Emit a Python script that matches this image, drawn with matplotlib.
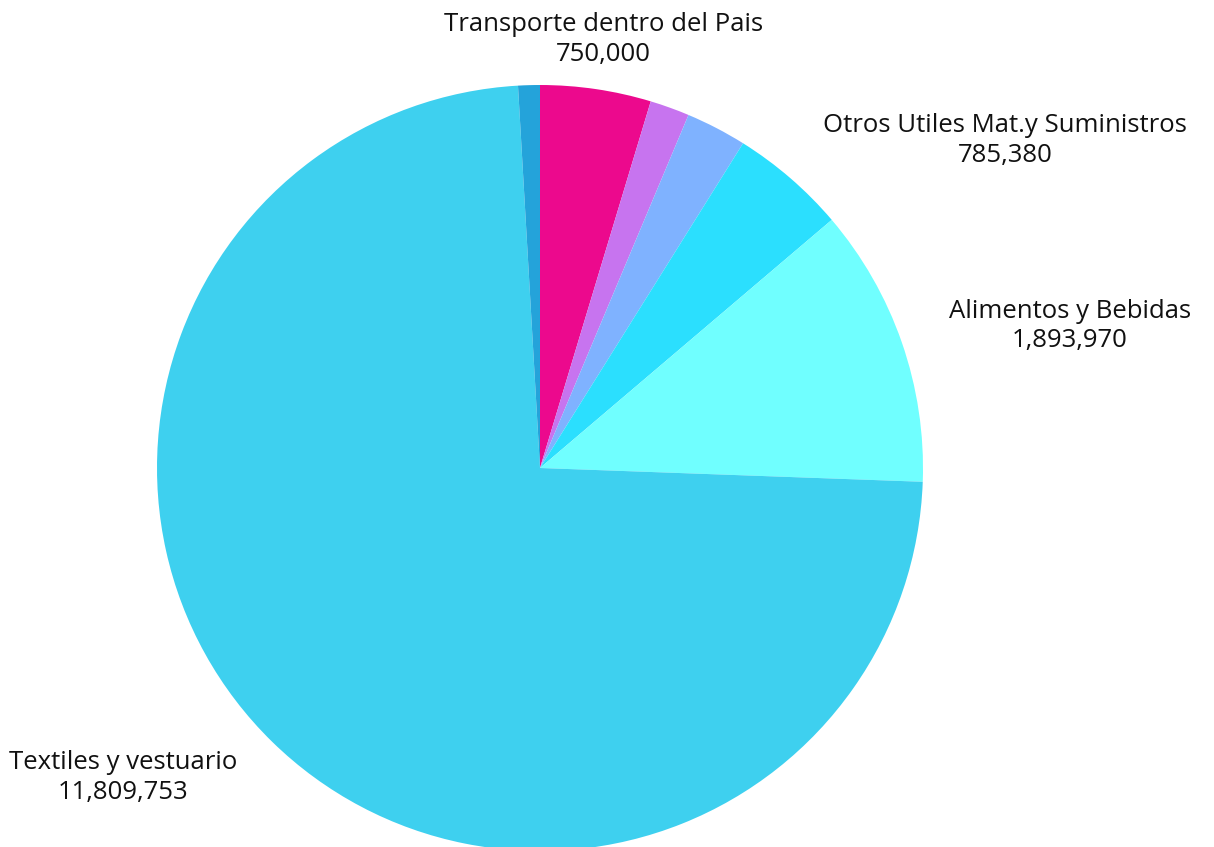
import matplotlib.pyplot as plt
import numpy as np

plt.rcParams['font.family'] = ['Open Sans', 'DejaVu Sans']

# clockwise from 12 o'clock
categories = ['Transporte dentro del Pais', '', '', 'Otros Utiles Mat.y Suministros',
              'Alimentos y Bebidas', 'Textiles y vestuario', '']
values = [750000, 268000, 411000, 785380, 1893970, 11809753, 147000]
colors = ['#EC098D', '#C774EF', '#7FB2FF', '#2BDFFE', '#70FFFF', '#3ED0EF', '#24A3DA']

W, H = 1214, 847
fig = plt.figure(figsize=(W / 100, H / 100), dpi=100)
R = 383
cx, cy = 540, H - 468
ax = fig.add_axes([(cx - R) / W, (cy - R) / H, 2 * R / W, 2 * R / H])

wedges, _ = ax.pie(values, colors=colors, startangle=90, counterclock=False,
                   radius=1, wedgeprops=dict(linewidth=0))
ax.set_xlim(-1, 1)
ax.set_ylim(-1, 1)
ax.set_aspect('equal')
ax.axis('off')

for w, name, v in zip(wedges, categories, values):
    if not name:
        continue
    mid = np.deg2rad((w.theta1 + w.theta2) / 2)
    x, y = 1.13 * np.cos(mid), 1.13 * np.sin(mid)
    if abs(x) < 0.3:
        ha = 'center'
    elif x > 0:
        ha = 'left'
    else:
        ha = 'right'
    ax.text(x, y, f'{name}\n{v:,}', ha=ha, va='center', fontsize=18.5,
            linespacing=1.25, multialignment='center', color='#111111',
            clip_on=False)

fig.savefig('out.png', dpi=100)
